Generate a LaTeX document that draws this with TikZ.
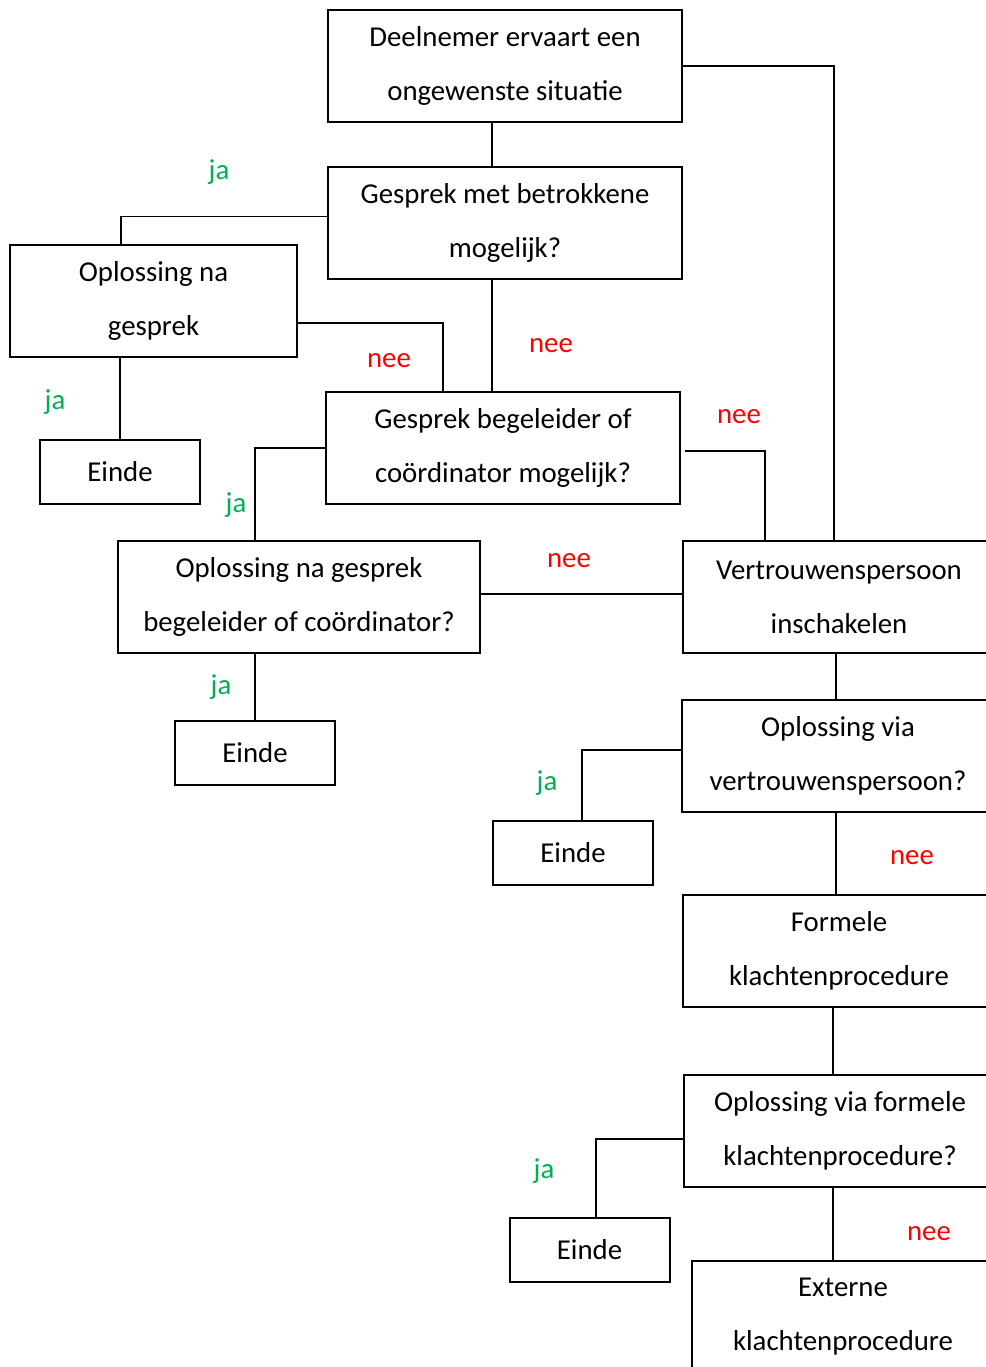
\documentclass[tikz,border=0pt]{standalone}
\usepackage{fontspec}
\setmainfont{Carlito}
\usepackage{tikz}
\usetikzlibrary{positioning}

\begin{document}
\begin{tikzpicture}[x=0.5pt,y=-0.5pt,
	stepbox/.style={rectangle, draw=black, line width=1pt, align=center, inner sep=0pt, minimum height=56pt, font=\fontsize{14.4pt}{27pt}\selectfont},
	endbox/.style={rectangle, draw=black, line width=1pt, inner sep=0pt, minimum width=80pt, minimum height=32pt, font=\fontsize{14.4pt}{27pt}\selectfont},
	yes/.style={text=jagreen, inner sep=0pt, font=\fontsize{14.4pt}{27pt}\selectfont},
	no/.style={text=red, inner sep=0pt, font=\fontsize{14.4pt}{27pt}\selectfont},
	conn/.style={line width=0.6pt}]
	\definecolor{jagreen}{HTML}{00B050}
	\useasboundingbox (0,0) rectangle (986,1367);
	\node[stepbox, minimum width=177pt] (situatie) at (505,66) {Deelnemer ervaart een\\ongewenste situatie};
	\node[stepbox, minimum width=177pt] (betrokkene) at (505,222.5) {Gesprek met betrokkene\\mogelijk?};
	\node[stepbox, minimum width=143.5pt] (oplgesprek) at (153.5,300.5) {Oplossing na\\gesprek};
	\node[endbox] (eindeA) at (120,472) {Einde};
	\node[stepbox, minimum width=177pt] (begeleider) at (503,448) {Gesprek begeleider of\\coördinator mogelijk?};
	\node[stepbox, minimum width=181pt] (oplbegeleider) at (299,596.5) {Oplossing na gesprek\\begeleider of coördinator?};
	\node[endbox] (eindeB) at (255,752.5) {Einde};
	\node[stepbox, minimum width=156pt] (vertrouwen) at (839,597) {Vertrouwenspersoon\\inschakelen};
	\node[stepbox, minimum width=156pt] (oplvertrouwen) at (838,756) {Oplossing via\\vertrouwenspersoon?};
	\node[endbox] (eindeC) at (573,852.5) {Einde};
	\node[stepbox, minimum width=156pt] (formeel) at (839,950.5) {Formele\\klachtenprocedure};
	\node[stepbox, minimum width=156pt] (oplformeel) at (840,1130.5) {Oplossing via formele\\klachtenprocedure?};
	\node[endbox] (eindeD) at (589.5,1250) {Einde};
	\node[stepbox, minimum width=151pt] (extern) at (843,1317) {Externe\\klachtenprocedure};
	\draw[conn] ([xshift=-6.5pt]situatie.south) -- ([xshift=-6.5pt]betrokkene.north);
	\draw[conn] (situatie.east) -| ([xshift=-2.5pt]vertrouwen.north);
	\draw[conn] ([yshift=3pt]betrokkene.west) -| ([xshift=-16.25pt]oplgesprek.north);
	\draw[conn] ([xshift=-6.5pt]betrokkene.south) -- ([xshift=-6.5pt]betrokkene.south |- begeleider.north);
	\draw[conn] ([yshift=-11.25pt]oplgesprek.east) -| ([xshift=-30pt]begeleider.north);
	\draw[conn] (oplgesprek.south -| eindeA.north) -- (eindeA.north);
	\draw[conn] (begeleider.west) -| (eindeB.north |- oplbegeleider.north);
	\draw[conn] ([xshift=2pt,yshift=-1.5pt]begeleider.east) -| ([xshift=-37pt]vertrouwen.north);
	\draw[conn] ([yshift=1.25pt]oplbegeleider.east) -- ([yshift=1.25pt]oplbegeleider.east -| vertrouwen.west);
	\draw[conn] (oplbegeleider.south -| eindeB.north) -- (eindeB.north);
	\draw[conn] ([xshift=-1.5pt]vertrouwen.south) -- ([xshift=-1.5pt]vertrouwen.south |- oplvertrouwen.north);
	\draw[conn] ([yshift=3pt]oplvertrouwen.west) -| ([xshift=4.5pt]eindeC.north);
	\draw[conn] ([xshift=-1pt]oplvertrouwen.south) -- ([xshift=-1pt]oplvertrouwen.south |- formeel.north);
	\draw[conn] ([xshift=-3pt]formeel.south) -- ([xshift=-3pt]formeel.south |- oplformeel.north);
	\draw[conn] ([yshift=-4.25pt]oplformeel.west) -| ([xshift=3.25pt]eindeD.north);
	\draw[conn] ([xshift=-3.5pt]oplformeel.south) -- ([xshift=-3.5pt]oplformeel.south |- extern.north);
	\node[yes] (jaA) at (219,172) {ja};
	\node[no] (neeA) at (389,361) {nee};
	\node[no] (neeB) at (551,346) {nee};
	\node[yes] (jaB) at (55,402) {ja};
	\node[no] (neeC) at (739,417) {nee};
	\node[yes] (jaC) at (236,505) {ja};
	\node[no] (neeD) at (569,561) {nee};
	\node[yes] (jaD) at (221,687) {ja};
	\node[yes] (jaE) at (547,783) {ja};
	\node[no] (neeE) at (912,858) {nee};
	\node[yes] (jaF) at (544,1171) {ja};
	\node[no] (neeF) at (929,1234) {nee};
\end{tikzpicture}
\end{document}
